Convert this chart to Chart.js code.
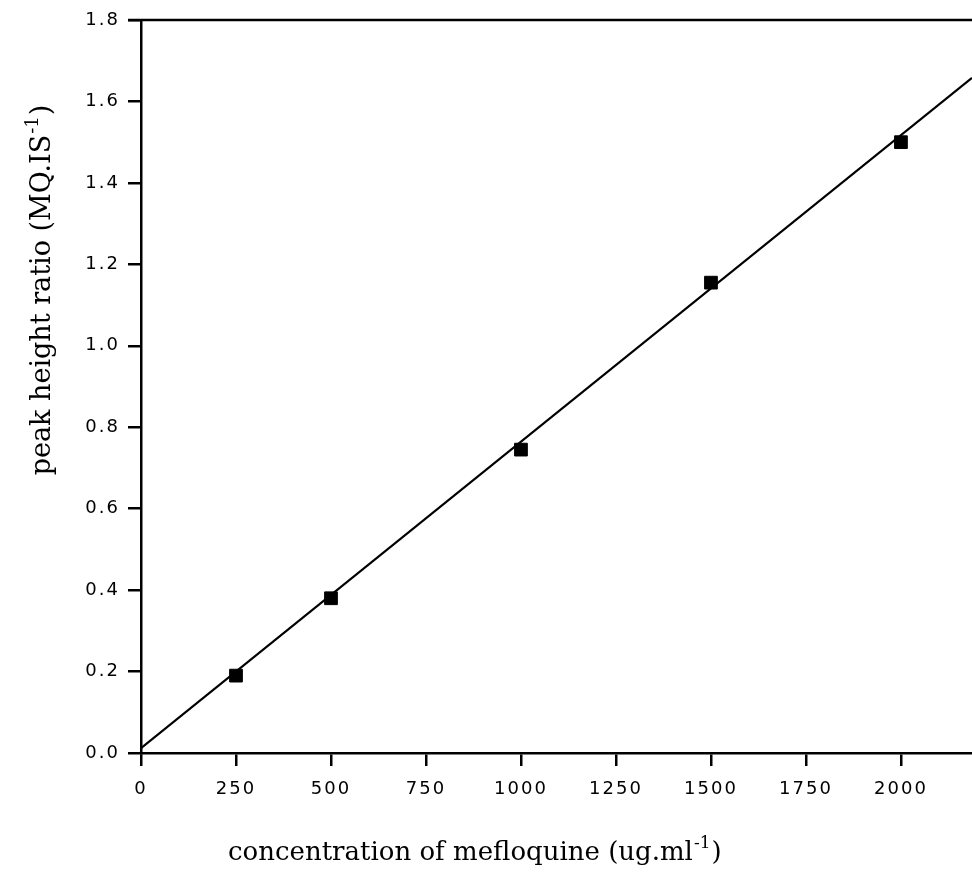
<!DOCTYPE html>
<html>
<head>
<meta charset="utf-8">
<script src="https://cdn.jsdelivr.net/npm/chart.js@4"></script>
<style>
  body { margin: 0; background: #fff; }
</style>
</head>
<body>
<canvas id="myChart" width="972" height="878"></canvas>
<script>
const chart = document.getElementById("myChart");

// calibration standards
const concentrations = [250, 500, 1000, 1500, 2000];
const peakRatios = [0.19, 0.38, 0.745, 1.155, 1.5];
// fitted line, read at both ends of the plot
const fitX = [0, 2187];
const fitY = [0.012, 1.658];
// tick labels
const xTicks = [0, 250, 500, 750, 1000, 1250, 1500, 1750, 2000];
const yTicks = [0, 0.2, 0.4, 0.6, 0.8, 1.0, 1.2, 1.4, 1.6, 1.8];
// axis titles, split round the superscript
const xTitle = ["concentration of mefloquine (ug.ml", "-1", ")"];
const yTitle = ["peak height ratio (MQ.IS", "-1", ")"];

const tickFont = { family: "DejaVu Sans", size: 18 };

// draws "text<sup>sup</sup>)" from x (or centred on x), on baseline y
function drawSupText(ctx, parts, x, y, align, size) {
  const big = size + "px 'DejaVu Serif'";
  const small = Math.round(size * 0.66) + "px 'DejaVu Serif'";
  ctx.font = big;
  const w1 = ctx.measureText(parts[0]).width;
  const w3 = ctx.measureText(parts[2]).width;
  ctx.font = small;
  const w2 = ctx.measureText(parts[1]).width;
  let start = x;
  if (align === "center") start = x - (w1 + w2 + w3) / 2;
  ctx.textAlign = "left";
  ctx.textBaseline = "alphabetic";
  ctx.font = big;
  ctx.fillText(parts[0], start, y);
  ctx.font = small;
  ctx.fillText(parts[1], start + w1 + 1, y - size * 0.46);
  ctx.font = big;
  ctx.fillText(parts[2], start + w1 + w2 + 2, y);
}

const frame = {
  id: "frame",
  beforeDraw(c) {
    c.ctx.letterSpacing = "2px";
  },
  afterDraw(c) {
    const { ctx, chartArea } = c;
    ctx.save();
    ctx.letterSpacing = "0px";
    // top frame line
    ctx.strokeStyle = "#000";
    ctx.lineWidth = 2.5;
    ctx.beginPath();
    ctx.moveTo(chartArea.left - 13, chartArea.top);
    ctx.lineTo(chartArea.right, chartArea.top);
    ctx.stroke();
    // axis titles
    ctx.fillStyle = "#000";
    drawSupText(ctx, xTitle, 228, 860, "left", 26);
    ctx.translate(50, 291);
    ctx.rotate(-Math.PI / 2);
    drawSupText(ctx, yTitle, 0, 0, "center", 27);
    ctx.restore();
  },
};

const myChart = new Chart(chart, {
  type: "scatter",
  data: {
    datasets: [
      {
        label: "fit",
        type: "line",
        data: fitX.map((x, i) => ({ x: x, y: fitY[i] })),
        borderColor: "#000",
        borderWidth: 2.2,
        pointRadius: 0,
      },
      {
        label: "standards",
        data: concentrations.map((x, i) => ({ x: x, y: peakRatios[i] })),
        backgroundColor: "#000",
        borderColor: "#000",
        pointStyle: "rect",
        pointRadius: 9,
      },
    ],
  },
  plugins: [frame],
  options: {
    responsive: false,
    animation: false,
    layout: { autoPadding: false, padding: { top: 20, right: 0 } },
    plugins: {
      legend: { display: false },
      tooltip: { enabled: false },
    },
    scales: {
      x: {
        type: "linear",
        min: 0,
        max: 2187,
        afterBuildTicks: (s) => {
          s.ticks = xTicks.map((v) => ({ value: v }));
        },
        afterFit: (s) => {
          s.height = 125;
          s.paddingLeft = 0;
          s.paddingRight = 0;
        },
        border: { display: true, color: "#000", width: 2.5 },
        grid: { drawOnChartArea: false, drawTicks: true, tickLength: 13, color: "#000", lineWidth: 2.5 },
        ticks: {
          color: "#000",
          font: tickFont,
          padding: 13,
          maxRotation: 0,
          autoSkip: false,
          callback: (v) => String(v),
        },
      },
      y: {
        type: "linear",
        min: 0,
        max: 1.8,
        afterBuildTicks: (s) => {
          s.ticks = yTicks.map((v) => ({ value: v }));
        },
        afterFit: (s) => {
          s.width = 141;
          s.paddingTop = 0;
          s.paddingBottom = 0;
        },
        border: { display: true, color: "#000", width: 2.5 },
        grid: { drawOnChartArea: false, drawTicks: true, tickLength: 13, color: "#000", lineWidth: 2.5 },
        ticks: {
          color: "#000",
          font: tickFont,
          padding: 8,
          autoSkip: false,
          callback: (v) => v.toFixed(1),
        },
      },
    },
  },
});
</script>
</body>
</html>
